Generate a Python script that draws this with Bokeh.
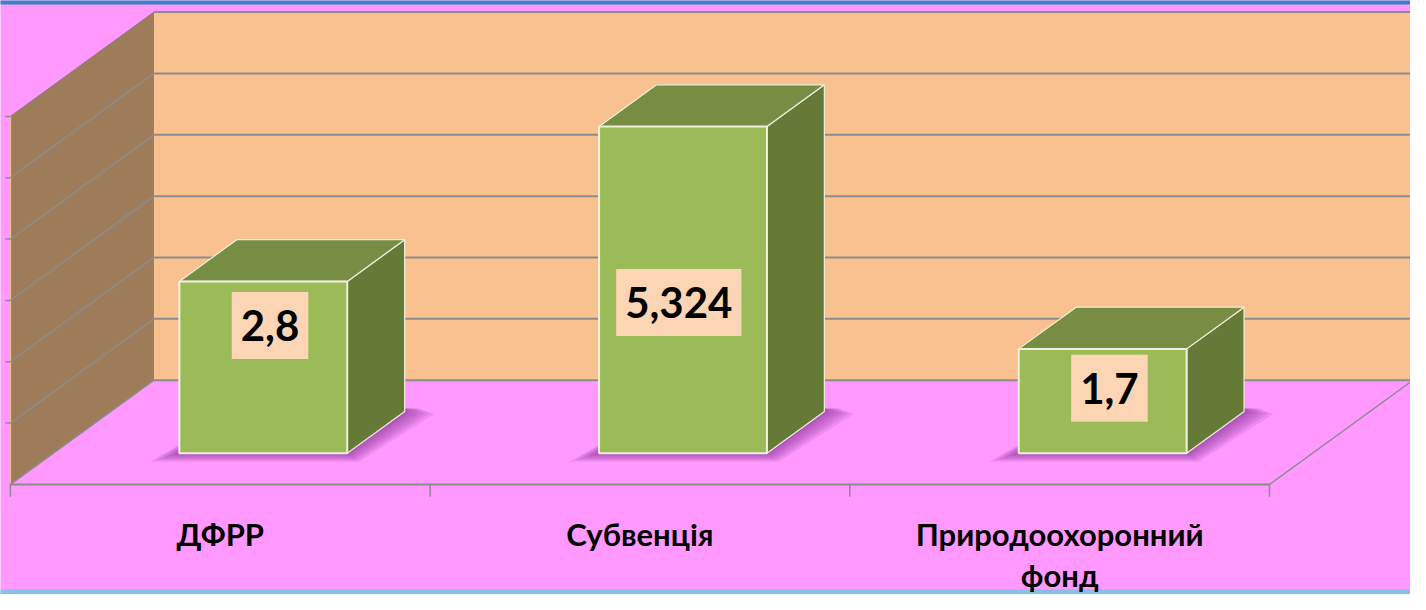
from bokeh.plotting import figure
from bokeh.models import Range1d
from bokeh.embed import file_html
from bokeh.resources import INLINE
from bokeh.core.properties import value

# ---------------- data ----------------
categories = ["ДФРР", "Субвенція", "Природоохоронний фонд"]
values = [2.8, 5.324, 1.7]
value_labels = ["2,8", "5,324", "1,7"]
axis_max = 6
axis_step = 1

# ---------------- layout / style ----------------
DX, DY = 0.342, 1.70          # projection of full floor depth (x in slots, y in value units)
D_FRONT, D_BACK = 0.30, 0.70  # bar depth span
BAR_W = 0.40                  # bar width in slots
label_drop = [0.72, 2.87, 0.64]   # label centre below bar top (value units)
label_shift = [0.016, -0.01, 0.016]

BG = "#FF99FF"
BACK_WALL = "#FAC190"
SIDE_WALL = "#9E7C5A"
GRID = "#8C8C8C"
FRONT = "#9BBB59"
TOP = "#778D43"
SIDE = "#667A38"
EDGE = "#EEF0DC"
LABEL_BG = "#FCD5B4"

x_lo, x_hi = -0.0236, 3.336
y_lo, y_hi = -1.794, 7.889
W, H = 1410, 594

p = figure(width=W, height=H, x_range=Range1d(x_lo, x_hi), y_range=Range1d(y_lo, y_hi),
           output_backend="svg", toolbar_location=None, min_border=0,
           x_axis_type=None, y_axis_type=None)
p.grid.visible = False
p.outline_line_color = None
p.background_fill_color = BG
p.border_fill_color = BG

n = len(categories)

# back wall
p.quad(left=[DX], right=[n + DX], bottom=[DY], top=[axis_max + DY],
       fill_color=BACK_WALL, line_color=None)
# left wall
p.patch([0, DX, DX, 0], [0, DY, DY + axis_max, axis_max], fill_color=SIDE_WALL,
        line_color=None)
p.line([0, DX], [axis_max, axis_max + DY], line_color="#8A7A80", line_width=1)
p.line([0, 0], [0, axis_max], line_color="#F2B98E", line_width=1.5)

# grid lines
levels = list(range(0, axis_max + 1, axis_step))
p.multi_line([[DX, n + DX] for v in levels], [[v + DY, v + DY] for v in levels],
             line_color=GRID, line_width=2)
p.multi_line([[0, DX] for v in levels[:-1]], [[v, v + DY] for v in levels[:-1]],
             line_color=GRID, line_width=1.5)
p.multi_line([[-0.012, 0] for v in levels[1:]], [[v, v] for v in levels[1:]],
             line_color=GRID, line_width=1.5)

# floor edges and category ticks
p.line([0, n], [0, 0], line_color=GRID, line_width=2)
p.line([n, n + DX], [0, DY], line_color=GRID, line_width=1.5)
p.multi_line([[k, k] for k in range(n + 1)], [[0, -0.2] for k in range(n + 1)],
             line_color=GRID, line_width=1.5)

ddx = (D_BACK - D_FRONT) * DX
ddy = (D_BACK - D_FRONT) * DY
yb = D_FRONT * DY

# shadows
for i, v in enumerate(values):
    x0 = i + (1 - BAR_W) / 2 + D_FRONT * DX
    x1 = x0 + BAR_W
    for k in range(6):
        ex = 0.07 * (1 - k / 6)
        ey = 0.14 * (1 - k / 6)
        xs = [x0 - ex, x1 + ex * 0.4, x1 + ddx + ex, x1 + ddx + ex * 0.5, x0 + ddx]
        ys = [yb - ey, yb - ey, yb + ddy - ey * 0.3, yb + ddy + 0.05, yb + ddy]
        p.patch(xs, ys, fill_color="#7A2A8A", fill_alpha=0.13, line_color=None)

# bars
for i, v in enumerate(values):
    x0 = i + (1 - BAR_W) / 2 + D_FRONT * DX
    x1 = x0 + BAR_W
    yt = yb + v
    p.patch([x1, x1 + ddx, x1 + ddx, x1], [yb, yb + ddy, yt + ddy, yt],
            fill_color=SIDE, line_color=EDGE, line_width=1.2)
    p.patch([x0, x1, x1 + ddx, x0 + ddx], [yt, yt, yt + ddy, yt + ddy],
            fill_color=TOP, line_color=EDGE, line_width=1.2)
    p.quad(left=[x0], right=[x1], bottom=[yb], top=[yt],
           fill_color=FRONT, line_color=EDGE, line_width=2)

# value labels
lx = [i + 0.5 + D_FRONT * DX + label_shift[i] for i in range(n)]
ly = [yb + v - label_drop[i] for i, v in enumerate(values)]
p.text(x=lx, y=ly, text=value_labels, text_font=value("Lato"), text_font_style="bold",
       text_font_size="42px", text_color="black", text_align="center",
       text_baseline="middle", background_fill_color=LABEL_BG, padding=(9, 18))

# top / bottom decorative bands
p.quad(left=[x_lo - 1], right=[x_hi + 1], bottom=[7.825], top=[y_hi + 1],
       fill_color="#3A80C8", line_color=None)
p.quad(left=[x_lo - 1], right=[x_hi + 1], bottom=[y_lo - 1], top=[-1.714],
       fill_color="#86C0E6", line_color=None)

# category labels (wrapped)
cx, cy, ct = [], [], []
for i, c in enumerate(categories):
    lines = c.split(" ") if len(c) > 12 else [c]
    for j, ln in enumerate(lines):
        cx.append(i + 0.5)
        cy.append(-0.80 - 0.68 * j)
        ct.append(ln)
p.text(x=cx, y=cy, text=ct, text_font=value("Lato"), text_font_style="bold",
       text_font_size="31px", text_color="black", text_align="center",
       text_baseline="alphabetic")

open("out.html", "w").write(file_html(p, INLINE))
